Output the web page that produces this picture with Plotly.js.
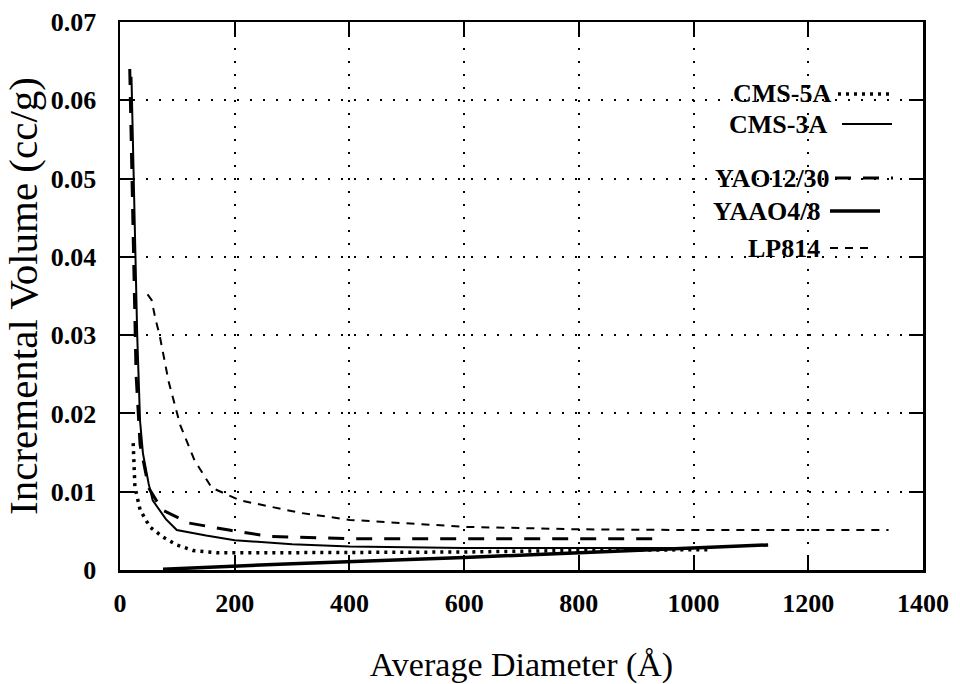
<!DOCTYPE html>
<html>
<head>
<meta charset="utf-8">
<script src="https://cdn.plot.ly/plotly-3.0.1.min.js"></script>
<style>html,body{margin:0;padding:0;background:#fff}#chart{width:960px;height:684px}</style>
</head>
<body>
<div id="chart"></div>
<script>
// Series names
const seriesNames = ["CMS-5A", "CMS-3A", "YAO12/30", "YAAO4/8", "LP814"];

// CMS-5A (dotted)
const cms5aX = [23, 26, 35, 52, 75, 99, 127, 170, 250, 400, 600, 800, 1030];
const cms5aY = [0.0162, 0.0106, 0.0077, 0.0055, 0.0042, 0.0032, 0.0025, 0.0022, 0.0022, 0.0022, 0.0023, 0.0025, 0.0026];

// CMS-3A (solid)
const cms3aX = [20, 26, 30, 35, 40, 50, 57, 80, 99, 150, 200, 300, 400, 600, 800, 1000];
const cms3aY = [0.063, 0.045, 0.030, 0.019, 0.0149, 0.011, 0.0089, 0.0065, 0.0051, 0.0044, 0.0038, 0.0033, 0.0030, 0.0028, 0.0028, 0.0028];

// YAO12/30 (long dash)
const yao1230X = [17, 22, 28, 35, 50, 73, 120, 190, 260, 400, 600, 930];
const yao1230Y = [0.064, 0.045, 0.025, 0.016, 0.0105, 0.0077, 0.0060, 0.0051, 0.0043, 0.0040, 0.0040, 0.0040];

// YAAO4/8 (thick solid)
const yaao48X = [75, 300, 600, 900, 1130];
const yaao48Y = [0.0001, 0.0008, 0.0016, 0.0025, 0.0032];

// LP814 (short dash)
const lp814X = [48, 55, 62, 69, 85, 105, 130, 160, 209, 314, 401, 605, 800, 1000, 1340];
const lp814Y = [0.0352, 0.0345, 0.032, 0.030, 0.024, 0.0185, 0.014, 0.0105, 0.0089, 0.0073, 0.0064, 0.0055, 0.0052, 0.0051, 0.0051];

// Axis ticks
const xTicks = [0, 200, 400, 600, 800, 1000, 1200, 1400];
const yTicks = [0, 0.01, 0.02, 0.03, 0.04, 0.05, 0.06, 0.07];

const styles = [
  {width: 3.5, dash: "3px,5px"},
  {width: 2, dash: "solid"},
  {width: 3, dash: "16px,12px"},
  {width: 3.5, dash: "solid"},
  {width: 2, dash: "8px,7px"}
];
const xs = [cms5aX, cms3aX, yao1230X, yaao48X, lp814X];
const ys = [cms5aY, cms3aY, yao1230Y, yaao48Y, lp814Y];

const traces = seriesNames.map((n, i) => ({
  type: "scatter", mode: "lines", name: n, x: xs[i], y: ys[i],
  line: {color: "#000", width: styles[i].width, dash: styles[i].dash},
  showlegend: false, hoverinfo: "skip"
}));

// Legend (text right-aligned, sample to the right), positions in pixels converted to paper
const L = 120, R = 923, T = 22, B = 570;
const px = v => (v - L) / (R - L);
const py = v => (B - v) / (B - T);
const legendRows = [94, 124, 178, 211, 248];
const legendTextRight = [833, 829, 832, 822, 822];
const legendSample = [[838, 893], [842, 892], [835, 893], [830, 880], [830, 873]];

const annotations = seriesNames.map((n, i) => ({
  text: n, xref: "paper", yref: "paper", x: px(legendTextRight[i]), y: py(legendRows[i]),
  xanchor: "right", yanchor: "middle", showarrow: false,
  font: {family: "Liberation Serif, serif", size: 26, color: "#000", weight: "bold"}
}));
const shapes = seriesNames.map((n, i) => ({
  type: "line", xref: "paper", yref: "paper",
  x0: px(legendSample[i][0]), x1: px(legendSample[i][1]),
  y0: py(legendRows[i]), y1: py(legendRows[i]),
  line: {color: "#000", width: styles[i].width, dash: styles[i].dash}
}));

const axisCommon = {
  showline: true, mirror: "ticks", linecolor: "#000", linewidth: 2.5,
  ticks: "inside", ticklen: 14, tickwidth: 2, tickcolor: "#000",
  showgrid: true, gridcolor: "#000", gridwidth: 2, griddash: "2px,11px",
  zeroline: false,
  tickfont: {family: "Liberation Serif, serif", size: 26, color: "#000", weight: "bold"}
};

const layout = {
  width: 960, height: 684,
  margin: {l: L, r: 960 - R, t: T, b: 684 - B},
  paper_bgcolor: "#fff", plot_bgcolor: "#fff",
  xaxis: Object.assign({}, axisCommon, {
    range: [0, 1400], tickvals: xTicks, ticktext: xTicks.map(String),
    ticklabelstandoff: 8,
    title: {text: "Average Diameter (Å)", font: {family: "Liberation Serif, serif", size: 34, color: "#000"}, standoff: 40}
  }),
  yaxis: Object.assign({}, axisCommon, {
    range: [0, 0.07], tickvals: yTicks, ticktext: yTicks.map(v => v === 0 ? "0" : v.toFixed(2)),
    ticklabelstandoff: 16,
    title: {text: "Incremental Volume (cc/g)", font: {family: "Liberation Serif, serif", size: 41, color: "#000"}, standoff: 6}
  }),
  annotations: annotations,
  shapes: shapes,
  showlegend: false
};

Plotly.newPlot("chart", traces, layout, {displayModeBar: false, staticPlot: true});
</script>
</body>
</html>
